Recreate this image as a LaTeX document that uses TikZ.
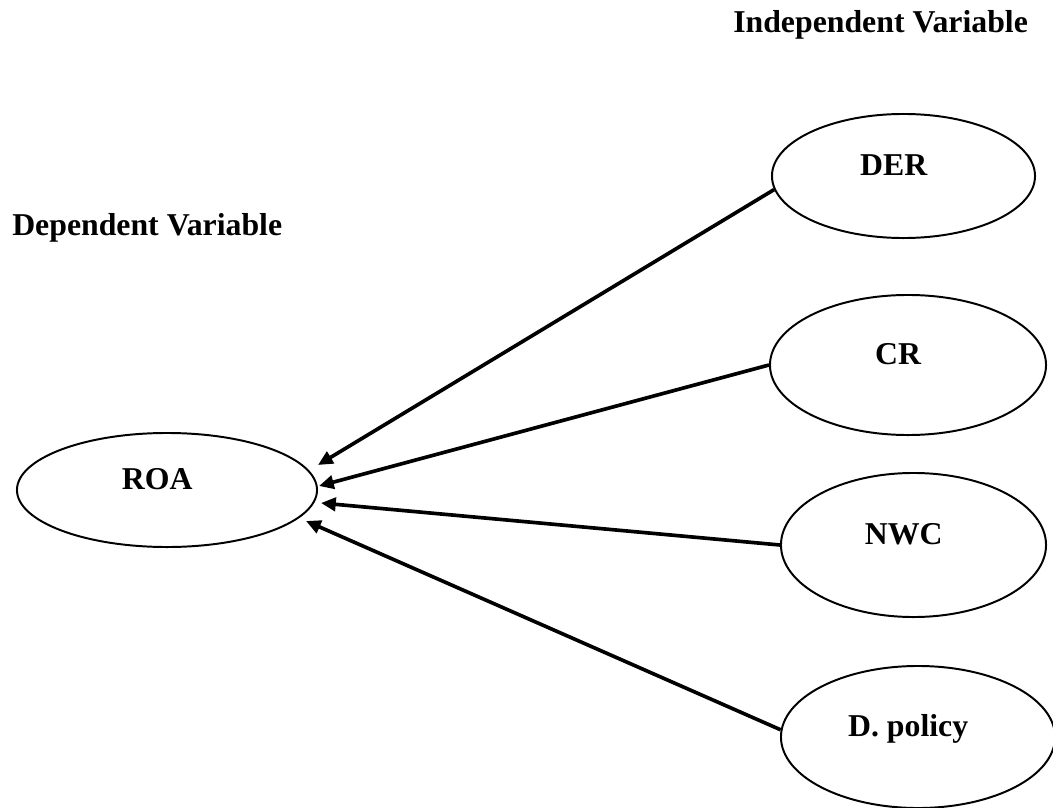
\documentclass[tikz,border=0pt]{standalone}
\usepackage{fontspec}
\setmainfont{Liberation Serif}
\usetikzlibrary{shapes.geometric, arrows.meta, positioning}
\newcommand{\diagfont}{\fontsize{22.6}{27}\selectfont\bfseries}
\tikzset{
  var/.style 2 args={ellipse, draw=black, line width=1.4pt,
              minimum width=#1, minimum height=#2, inner sep=0pt},
  vartext/.style={font=\diagfont, text height=15pt, text depth=0pt,
              inner sep=0pt, xshift=-7pt, yshift=8pt},
  heading/.style={font=\diagfont, anchor=base west, inner sep=0pt},
  arrow/.style={-{Triangle[length=10.5pt, width=9.5pt]}, line width=2.6pt},
}

\begin{document}
\begin{tikzpicture}[x=0.025cm, y=-0.025cm]
  \useasboundingbox (0,0) rectangle (1053,808);
  % headings
  \node[heading] (indep) at (733,33) {Independent Variable};
  \node[heading] (dep) at (12,235) {Dependent Variable};
  % dependent variable
  \node[var={7.5cm}{2.85cm}, label={[vartext]center:ROA}] (roa) at (167,490) {};
  % independent variables
  \node[var={6.575cm}{3.1cm}, label={[vartext]center:DER}] (der) at (903.5,176) {};
  \node[var={6.9cm}{3.5cm}, label={[vartext]center:CR}] (cr) at (908,365) {};
  \node[var={6.625cm}{3.6cm}, label={[vartext]center:NWC}] (nwc) at (913.5,545) {};
  \node[var={6.85cm}{3.55cm}, label={[vartext]center:D. policy}] (dpol) at (918,737) {};
  % arrow ends next to ROA
  \coordinate (in-der) at (318,465);
  \coordinate (in-cr) at (319,486);
  \coordinate (in-nwc) at (321,503);
  \coordinate (in-dpol) at (306,521);
  \draw[arrow] (der.186) -- (in-der);
  \draw[arrow] (cr.west) -- (in-cr);
  \draw[arrow] (nwc.west) -- (in-nwc);
  \draw[arrow] (dpol.177) -- (in-dpol);
\end{tikzpicture}
\end{document}
